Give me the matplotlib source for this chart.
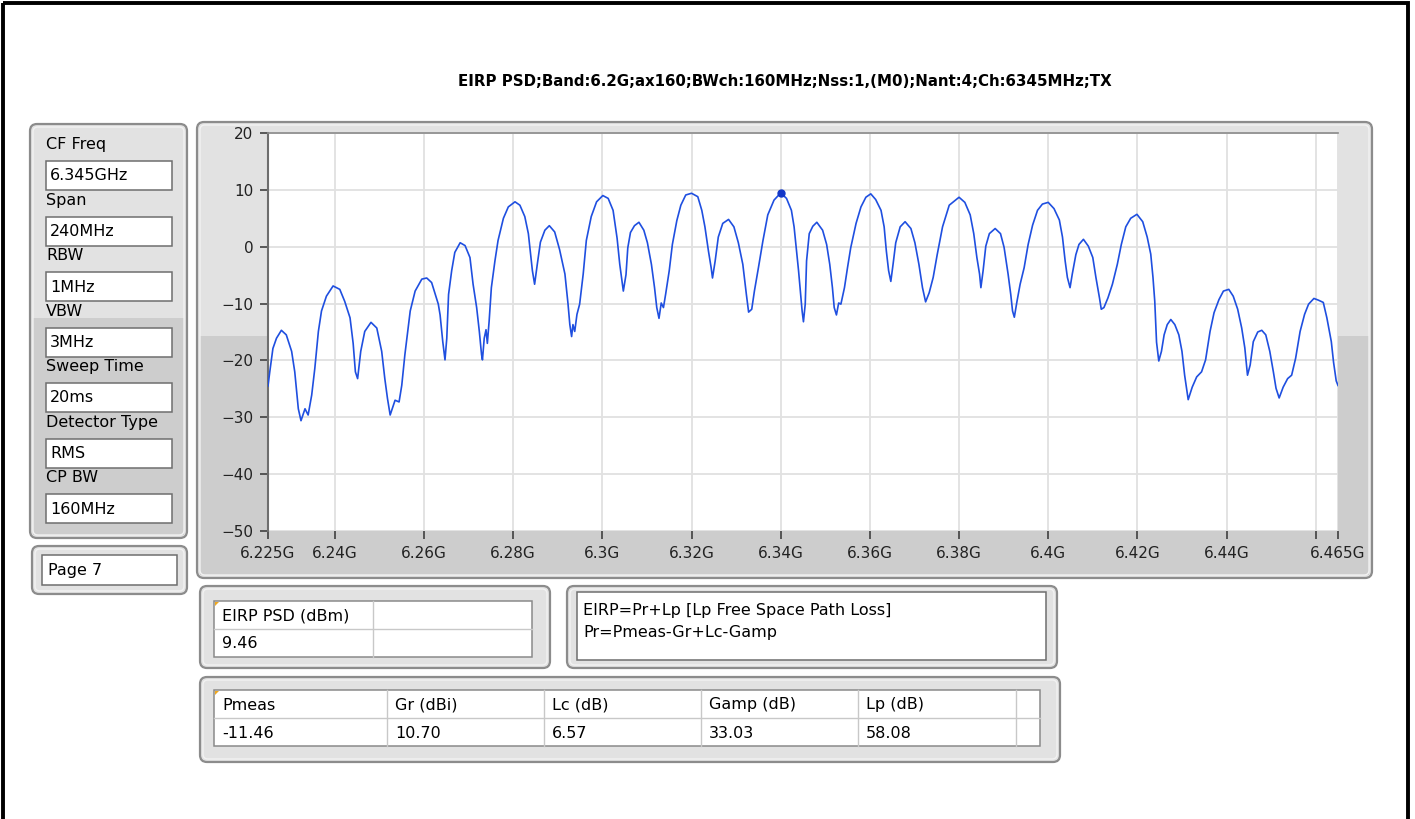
import matplotlib
matplotlib.use("Agg")
import matplotlib.pyplot as plt
from matplotlib.patches import FancyBboxPatch, Rectangle, Polygon

plt.rcParams["font.family"] = ["DejaVu Sans"]

# spectrum trace (MHz / dBm)
freq_mhz = [
    6225.0, 6225.4, 6226.1, 6226.9, 6228.0, 6229.1, 6230.3, 6231.0, 6231.8, 6232.4,
    6233.3, 6234.0, 6234.8, 6235.5, 6236.3, 6237.0, 6238.1, 6239.6, 6241.1, 6242.2,
    6243.4, 6244.1, 6244.6, 6245.1, 6245.8, 6246.7, 6248.1, 6249.4, 6250.5, 6251.2,
    6251.8, 6252.4, 6253.5, 6254.4, 6255.0, 6255.7, 6256.9, 6258.0, 6259.5, 6260.6,
    6261.7, 6263.2, 6263.6, 6264.2, 6264.7, 6265.1, 6265.5, 6266.2, 6266.9, 6268.1,
    6269.2, 6270.3, 6271.0, 6271.8, 6272.4, 6272.9, 6273.1, 6273.5, 6273.9, 6274.2,
    6274.6, 6275.1, 6275.9, 6276.6, 6277.8, 6278.9, 6280.4, 6281.5, 6282.6, 6283.4,
    6283.9, 6284.3, 6284.8, 6285.4, 6286.1, 6287.1, 6288.1, 6289.3, 6290.4, 6291.6,
    6292.3, 6292.7, 6293.1, 6293.4, 6293.8, 6294.3, 6294.9, 6295.7, 6296.4, 6297.5,
    6298.7, 6300.1, 6301.3, 6302.4, 6303.3, 6303.9, 6304.7, 6305.3, 6305.7, 6306.3,
    6307.2, 6308.2, 6309.3, 6310.1, 6311.0, 6311.7, 6312.2, 6312.7, 6313.2, 6313.7,
    6314.2, 6315.0, 6315.7, 6316.7, 6317.6, 6318.7, 6320.0, 6321.4, 6322.3, 6323.0,
    6323.8, 6324.4, 6324.7, 6325.3, 6326.0, 6327.0, 6328.3, 6329.5, 6330.5, 6331.5,
    6332.3, 6332.8, 6333.5, 6334.1, 6335.0, 6336.0, 6337.1, 6338.5, 6340.0, 6341.3,
    6342.4, 6343.0, 6343.4, 6344.0, 6344.4, 6344.8, 6345.1, 6345.5, 6345.8, 6346.4,
    6347.2, 6348.1, 6349.4, 6350.3, 6351.0, 6351.6, 6352.0, 6352.5, 6353.0, 6353.5,
    6354.3, 6355.0, 6355.7, 6356.9, 6358.0, 6359.1, 6360.2, 6361.3, 6362.5, 6363.2,
    6363.7, 6364.2, 6364.7, 6365.2, 6365.8, 6366.8, 6367.9, 6369.2, 6370.1, 6371.0,
    6371.8, 6372.5, 6373.3, 6374.2, 6375.1, 6376.3, 6377.8, 6380.0, 6381.3, 6382.5,
    6383.3, 6384.0, 6384.6, 6384.9, 6385.4, 6386.0, 6386.8, 6388.1, 6389.3, 6390.1,
    6391.0, 6391.6, 6392.0, 6392.4, 6393.0, 6393.7, 6394.6, 6395.5, 6396.5, 6397.6,
    6398.7, 6400.0, 6401.3, 6402.5, 6403.2, 6403.8, 6404.3, 6404.9, 6405.4, 6406.2,
    6406.9, 6407.9, 6409.0, 6410.0, 6410.7, 6411.5, 6411.9, 6412.5, 6413.4, 6414.4,
    6415.5, 6416.4, 6417.4, 6418.5, 6419.9, 6421.2, 6422.2, 6423.0, 6423.5, 6423.9,
    6424.3, 6424.8, 6425.4, 6426.0, 6426.7, 6427.5, 6428.4, 6429.3, 6430.0, 6430.6,
    6431.4, 6432.3, 6433.3, 6434.4, 6435.3, 6436.3, 6437.2, 6438.3, 6439.3, 6440.5,
    6441.5, 6442.5, 6443.4, 6444.1, 6444.7, 6445.3, 6446.0, 6447.0, 6447.9, 6448.8,
    6449.7, 6450.5, 6451.1, 6451.8, 6452.7, 6453.7, 6454.6, 6455.5, 6456.5, 6457.5,
    6458.4, 6459.6, 6460.6, 6461.7, 6462.5, 6463.5, 6464.0, 6464.6, 6465.0,
]
psd_dbm = [
    -24.5, -22.0, -17.9, -16.1, -14.7, -15.5, -18.4, -22.0, -28.5, -30.6,
    -28.5, -29.6, -26.1, -21.4, -14.9, -11.3, -8.7, -6.9, -7.5, -9.6,
    -12.5, -17.0, -22.0, -23.2, -18.4, -14.9, -13.3, -14.3, -18.4, -23.2,
    -26.7, -29.6, -27.0, -27.3, -24.4, -19.0, -11.3, -7.8, -5.7, -5.5,
    -6.3, -10.1, -12.0, -16.7, -19.9, -16.1, -8.4, -4.2, -1.0, 0.7,
    0.2, -1.9, -6.6, -10.7, -14.9, -19.0, -19.9, -16.1, -14.6, -17.0,
    -13.1, -7.2, -2.5, 1.1, 5.0, 7.0, 7.9, 7.3, 5.3, 2.3,
    -1.4, -4.2, -6.6, -3.1, 0.8, 2.9, 3.7, 2.6, -0.5, -4.8,
    -10.1, -13.7, -15.8, -13.7, -14.9, -11.9, -10.1, -4.8, 1.1, 5.3,
    7.9, 9.0, 8.5, 6.4, 1.5, -3.1, -7.8, -4.9, -0.2, 2.5,
    3.7, 4.3, 2.9, 0.7, -3.1, -7.2, -10.7, -12.6, -9.9, -10.7,
    -8.3, -4.2, 0.4, 4.6, 7.3, 9.1, 9.4, 8.8, 6.4, 3.5,
    -0.8, -3.7, -5.5, -2.5, 1.7, 4.1, 4.8, 3.5, 0.7, -3.1,
    -8.4, -11.5, -11.0, -7.8, -3.7, 1.0, 5.6, 8.2, 9.46, 8.5,
    6.4, 3.5, 0.4, -4.2, -7.8, -11.3, -13.2, -10.1, -2.5, 2.3,
    3.6, 4.3, 2.9, 0.4, -3.1, -7.2, -10.7, -12.0, -9.9, -10.1,
    -7.2, -3.6, -0.2, 4.1, 7.0, 8.7, 9.3, 8.3, 6.4, 3.5,
    -0.8, -4.2, -6.1, -3.1, 0.7, 3.5, 4.4, 3.2, 0.7, -3.1,
    -7.2, -9.7, -8.1, -5.4, -1.4, 3.5, 7.3, 8.7, 7.8, 5.6,
    2.3, -1.9, -4.8, -7.2, -4.2, 0.1, 2.3, 3.2, 2.3, -0.1,
    -4.8, -8.4, -11.3, -12.4, -9.6, -6.6, -3.7, 0.4, 3.8, 6.4,
    7.5, 7.8, 6.7, 4.7, 1.7, -2.5, -5.4, -7.2, -4.8, -1.4,
    0.4, 1.3, 0.1, -1.9, -5.4, -9.0, -11.0, -10.7, -9.0, -6.6,
    -3.1, 0.4, 3.5, 5.0, 5.7, 4.4, 1.7, -1.3, -5.4, -9.6,
    -16.8, -20.1, -18.4, -15.5, -13.7, -12.8, -13.7, -15.5, -18.4, -22.6,
    -26.9, -24.7, -22.9, -22.0, -19.9, -14.9, -11.6, -9.3, -7.8, -7.5,
    -8.7, -11.0, -14.3, -17.8, -22.6, -20.8, -16.7, -15.0, -14.7, -15.5,
    -18.4, -22.0, -24.9, -26.6, -24.7, -23.2, -22.6, -19.6, -14.9, -11.9,
    -10.1, -9.1, -9.4, -9.8, -12.5, -16.7, -20.3, -23.6, -24.4,
]

title = "EIRP PSD;Band:6.2G;ax160;BWch:160MHz;Nss:1,(M0);Nant:4;Ch:6345MHz;TX"

x_ticks_ghz = [6.225, 6.24, 6.26, 6.28, 6.3, 6.32, 6.34, 6.36, 6.38, 6.4, 6.42, 6.44, 6.46, 6.465]
x_tick_labels = ["6.225G", "6.24G", "6.26G", "6.28G", "6.3G", "6.32G", "6.34G", "6.36G",
                 "6.38G", "6.4G", "6.42G", "6.44G", "", "6.465G"]
y_ticks = [-50, -40, -30, -20, -10, 0, 10, 20]

setting_names = ["CF Freq", "Span", "RBW", "VBW", "Sweep Time", "Detector Type", "CP BW"]
setting_values = ["6.345GHz", "240MHz", "1MHz", "3MHz", "20ms", "RMS", "160MHz"]
page_label = "Page 7"

eirp_header = "EIRP PSD (dBm)"
eirp_values = [9.46]

formula_lines = ["EIRP=Pr+Lp [Lp Free Space Path Loss]", "Pr=Pmeas-Gr+Lc-Gamp"]

loss_headers = ["Pmeas", "Gr (dBi)", "Lc (dB)", "Gamp (dB)", "Lp (dB)"]
loss_values = [-11.46, 10.70, 6.57, 33.03, 58.08]

W, H = 1415, 819
FS = 11.5   # panel / table text
TICK_FS = 11


def panel(ax, x0, y0, x1, y1, split=None):
    """grey LabVIEW style frame, lighter on top, darker below split"""
    ax.add_patch(FancyBboxPatch((x0, y0), x1 - x0, y1 - y0,
                                boxstyle="round,pad=0,rounding_size=7",
                                fc="#e2e2e2", ec="#8c8c8c", lw=1.6, zorder=1))
    if split is not None:
        ax.add_patch(Rectangle((x0 + 3, split), x1 - x0 - 6, y1 - split - 3,
                               fc="#cdcdcd", ec="none", zorder=1.1))
    ax.add_patch(FancyBboxPatch((x0 + 3, y0 + 3), x1 - x0 - 6, y1 - y0 - 6,
                                boxstyle="round,pad=0,rounding_size=5",
                                fc="none", ec="#f2f2f2", lw=1.0, zorder=1.2))


def text_box(ax, x0, y0, x1, y1, ec="#6e6e6e"):
    ax.add_patch(Rectangle((x0, y0), x1 - x0, y1 - y0, fc="white", ec=ec, lw=1.1, zorder=2))


def table(ax, x0, y0, col_edges, row_h, headers, values):
    x1 = col_edges[-1]
    text_box(ax, x0, y0, x1, y0 + 2 * row_h, ec="#8a8a8a")
    ax.plot([x0, x1], [y0 + row_h] * 2, color="#c8c8c8", lw=1, zorder=3)
    for cx in col_edges[1:-1]:
        ax.plot([cx, cx], [y0, y0 + 2 * row_h], color="#c8c8c8", lw=1, zorder=3)
    # little orange corner mark
    ax.add_patch(Polygon([[x0 + 1, y0 + 1], [x0 + 5, y0 + 1], [x0 + 1, y0 + 5]],
                         fc="#f0a820", ec="none", zorder=4))
    lefts = [x0] + list(col_edges[1:-1])
    for i, h in enumerate(headers):
        ax.text(lefts[i] + 8, y0 + row_h / 2 + 1, h, fontsize=FS, va="center", zorder=4)
    for i, v in enumerate(values):
        ax.text(lefts[i] + 8, y0 + 1.5 * row_h + 1, f"{v:.2f}", fontsize=FS, va="center", zorder=4)


fig = plt.figure(figsize=(W / 100, H / 100), dpi=100)
fig.patch.set_facecolor("white")
bg = fig.add_axes([0, 0, 1, 1])
bg.set_xlim(0, W)
bg.set_ylim(H, 0)
bg.axis("off")

# black outer frame
bg.add_patch(Rectangle((3, 3), 1405, H + 20, fc="none", ec="black", lw=2.8, zorder=5))

bg.text(785, 81, title, fontsize=10.8, fontweight="bold", ha="center", va="center")

# graph frame
panel(bg, 197, 122, 1372, 578, split=336)

# settings column
panel(bg, 30, 124, 187, 538, split=318)
for i, (name, val) in enumerate(zip(setting_names, setting_values)):
    ly = 145 + 55.5 * i
    bg.text(46, ly, name, fontsize=FS, va="center", zorder=3)
    text_box(bg, 46, ly + 16, 172, ly + 45)
    bg.text(50, ly + 31, val, fontsize=FS, va="center", zorder=3)

panel(bg, 32, 546, 187, 594)
text_box(bg, 42, 555, 177, 585)
bg.text(48, 571, page_label, fontsize=FS, va="center", zorder=3)

# EIRP result table
panel(bg, 200, 586, 550, 668)
table(bg, 214, 601, [214, 373, 532], 28, [eirp_header, ""], eirp_values)

# formula note
panel(bg, 567, 586, 1057, 668)
text_box(bg, 577, 592, 1046, 660)
for i, line in enumerate(formula_lines):
    bg.text(583, 610 + 22 * i, line, fontsize=FS, va="center", zorder=3)

# loss budget table
panel(bg, 200, 677, 1060, 762)
table(bg, 214, 690, [214, 387, 544, 701, 858, 1016, 1040], 28, loss_headers, loss_values)

# spectrum plot
ax = fig.add_axes([268 / W, 1 - 531 / H, 1070 / W, 398 / H])
ax.set_facecolor("white")
freq_ghz = [f / 1000 for f in freq_mhz]
ax.plot(freq_ghz, psd_dbm, color="#1f4fe0", lw=1.2, zorder=3)
peak = psd_dbm.index(max(psd_dbm))
ax.plot(freq_ghz[peak], eirp_values[0], "o", color="#1237c8", ms=5, zorder=4)

ax.set_xlim(6.225, 6.465)
ax.set_ylim(-50, 20)
ax.set_xticks(x_ticks_ghz)
ax.set_xticklabels(x_tick_labels)
ax.set_yticks(y_ticks)
ax.grid(color="#e1e1e1", lw=1.3, zorder=0)
ax.tick_params(direction="out", length=5.5, width=1.2, color="#404040",
               labelcolor="#222222", labelsize=TICK_FS, pad=5)
for side in ["right", "bottom"]:
    ax.spines[side].set_visible(False)
ax.spines["left"].set_color("#6e6e6e")
ax.spines["left"].set_linewidth(1.5)
ax.spines["top"].set_color("#8a8a8a")
ax.spines["top"].set_linewidth(1.2)

fig.savefig("out.png", dpi=100)
